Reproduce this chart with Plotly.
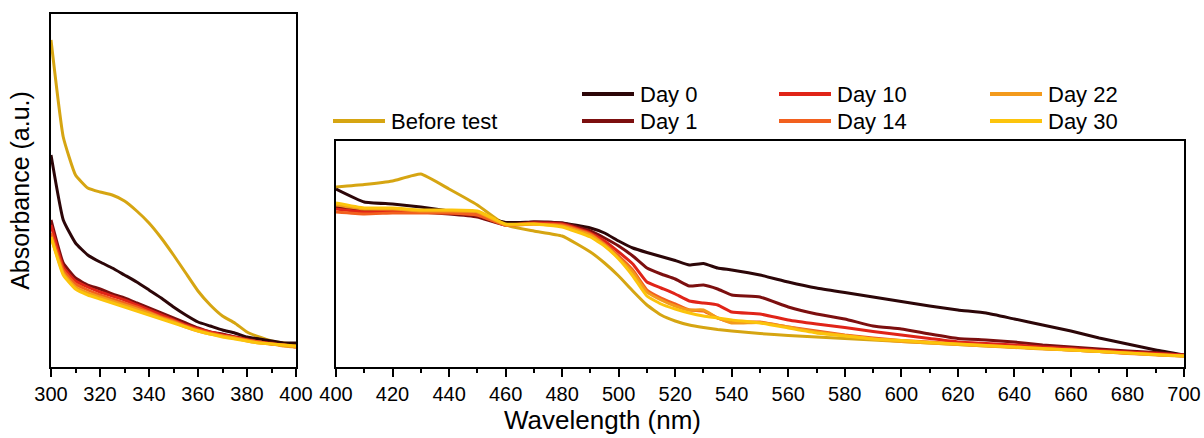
import plotly.graph_objects as go

# ---- data -------------------------------------------------------------
# UV region (left panel)
wl_uv = [300, 305, 310, 315, 320, 325, 330, 335, 340, 345, 350,
         355, 360, 365, 370, 375, 380, 385, 390, 395, 400]

uv_before = [3.27, 2.30, 1.92, 1.79, 1.75, 1.72, 1.66, 1.56, 1.44, 1.29, 1.12,
             0.94, 0.76, 0.62, 0.51, 0.44, 0.35, 0.30, 0.26, 0.24, 0.23]
uv_day0 = [2.12, 1.47, 1.24, 1.12, 1.05, 0.99, 0.92, 0.85, 0.77, 0.69, 0.60,
           0.52, 0.45, 0.41, 0.37, 0.34, 0.30, 0.28, 0.26, 0.24, 0.24]
uv_day1 = [1.47, 1.04, 0.89, 0.82, 0.78, 0.73, 0.69, 0.64, 0.59, 0.54, 0.49,
           0.44, 0.39, 0.35, 0.33, 0.30, 0.28, 0.25, 0.24, 0.22, 0.21]
uv_day10 = [1.42, 1.00, 0.86, 0.80, 0.75, 0.71, 0.67, 0.62, 0.57, 0.52, 0.47,
            0.42, 0.38, 0.35, 0.32, 0.30, 0.27, 0.25, 0.23, 0.22, 0.20]
uv_day14 = [1.34, 0.97, 0.83, 0.77, 0.72, 0.68, 0.64, 0.60, 0.55, 0.50, 0.46,
            0.41, 0.37, 0.34, 0.31, 0.29, 0.27, 0.25, 0.23, 0.22, 0.20]
uv_day22 = [1.30, 0.94, 0.80, 0.74, 0.70, 0.66, 0.62, 0.58, 0.54, 0.49, 0.45,
            0.40, 0.36, 0.33, 0.31, 0.29, 0.26, 0.24, 0.23, 0.21, 0.20]
uv_day30 = [1.30, 0.92, 0.78, 0.72, 0.68, 0.64, 0.60, 0.56, 0.52, 0.48, 0.44,
            0.40, 0.36, 0.33, 0.30, 0.28, 0.26, 0.24, 0.23, 0.22, 0.21]

# Visible region (right panel)
wl_vis = [400, 410, 420, 430, 440, 450, 460, 470, 480, 490, 495, 500, 505,
          510, 515, 520, 525, 530, 535, 540, 550, 560, 570, 580, 590, 600,
          610, 620, 630, 640, 650, 660, 670, 680, 690, 700]

vis_before = [1.80, 1.825, 1.86, 1.93, 1.78, 1.62, 1.42, 1.36, 1.31, 1.15, 1.04,
              0.91, 0.76, 0.62, 0.52, 0.46, 0.42, 0.395, 0.375, 0.36, 0.335,
              0.315, 0.30, 0.285, 0.27, 0.255, 0.24, 0.225, 0.21, 0.20, 0.185,
              0.17, 0.155, 0.14, 0.125, 0.11]
vis_day0 = [1.78, 1.65, 1.63, 1.60, 1.56, 1.52, 1.445, 1.45, 1.44, 1.39, 1.34,
            1.26, 1.19, 1.145, 1.105, 1.065, 1.02, 1.035, 0.99, 0.97, 0.92,
            0.85, 0.79, 0.745, 0.70, 0.655, 0.61, 0.57, 0.54, 0.48, 0.42,
            0.36, 0.29, 0.23, 0.17, 0.12]
vis_day1 = [1.60, 1.57, 1.57, 1.55, 1.53, 1.50, 1.42, 1.45, 1.44, 1.36, 1.29,
            1.21, 1.11, 0.99, 0.93, 0.88, 0.81, 0.82, 0.78, 0.72, 0.70,
            0.60, 0.53, 0.48, 0.41, 0.38, 0.33, 0.285, 0.27, 0.25, 0.22,
            0.20, 0.18, 0.16, 0.145, 0.12]
vis_day10 = [1.58, 1.55, 1.56, 1.55, 1.54, 1.52, 1.42, 1.44, 1.43, 1.34, 1.26,
             1.15, 1.03, 0.85, 0.79, 0.73, 0.66, 0.64, 0.62, 0.55, 0.53,
             0.47, 0.43, 0.395, 0.355, 0.32, 0.285, 0.25, 0.235, 0.22, 0.20,
             0.185, 0.165, 0.15, 0.135, 0.12]
vis_day14 = [1.55, 1.53, 1.54, 1.54, 1.54, 1.52, 1.42, 1.43, 1.42, 1.33, 1.23,
             1.11, 0.97, 0.77, 0.69, 0.63, 0.57, 0.56, 0.49, 0.45, 0.45,
             0.40, 0.36, 0.32, 0.29, 0.265, 0.25, 0.23, 0.215, 0.20, 0.185,
             0.17, 0.155, 0.135, 0.125, 0.11]
vis_day22 = [1.62, 1.58, 1.58, 1.56, 1.56, 1.55, 1.42, 1.43, 1.41, 1.32, 1.22,
             1.09, 0.95, 0.75, 0.67, 0.61, 0.57, 0.57, 0.49, 0.44, 0.445,
             0.40, 0.35, 0.315, 0.28, 0.255, 0.24, 0.225, 0.21, 0.195, 0.18,
             0.17, 0.155, 0.14, 0.12, 0.11]
vis_day30 = [1.64, 1.59, 1.59, 1.57, 1.57, 1.56, 1.43, 1.43, 1.40, 1.30, 1.21,
             1.08, 0.91, 0.71, 0.63, 0.58, 0.54, 0.51, 0.49, 0.47, 0.44,
             0.39, 0.34, 0.31, 0.28, 0.265, 0.245, 0.23, 0.215, 0.20, 0.185,
             0.17, 0.155, 0.14, 0.125, 0.11]

series_names = ["Before test", "Day 0", "Day 1", "Day 10", "Day 14", "Day 22", "Day 30"]
series_colors = ["#d6a512", "#2c0608", "#7c0f0f", "#e02418", "#f2601e", "#f39a1c", "#fcc40c"]
uv_series = [uv_before, uv_day0, uv_day1, uv_day10, uv_day14, uv_day22, uv_day30]
vis_series = [vis_before, vis_day0, vis_day1, vis_day10, vis_day14, vis_day22, vis_day30]

uv_ticks = [300, 320, 340, 360, 380, 400]
vis_ticks = list(range(400, 701, 20))

# ---- figure -----------------------------------------------------------
W, H = 1204, 438
FONT = "Liberation Sans, Arial, sans-serif"

fig = go.Figure()
for name, color, yu, yv in zip(series_names, series_colors, uv_series, vis_series):
    fig.add_trace(go.Scatter(x=wl_uv, y=yu, mode="lines", name=name,
                             line=dict(color=color, width=3, shape="spline", smoothing=0.4),
                             xaxis="x", yaxis="y", showlegend=False))
    fig.add_trace(go.Scatter(x=wl_vis, y=yv, mode="lines", name=name,
                             line=dict(color=color, width=3, shape="spline", smoothing=0.4),
                             xaxis="x2", yaxis="y2", showlegend=False))


def px_x(p):
    return p / W


def px_y(p):
    return 1 - p / H


frame = dict(showline=True, linecolor="black", linewidth=2, mirror=True,
             showgrid=False, zeroline=False, automargin=False)
xfmt = dict(ticks="outside", ticklen=8, tickwidth=2, tickcolor="black",
            minor=dict(ticks="outside", ticklen=4, tickwidth=2, tickcolor="black", dtick=10),
            tickfont=dict(family=FONT, size=20, color="black"))

fig.update_layout(
    width=W, height=H,
    margin=dict(l=0, r=0, t=0, b=0),
    paper_bgcolor="white", plot_bgcolor="white",
    font=dict(family=FONT, color="black"),
    xaxis=dict(domain=[px_x(51), px_x(296)], range=[300, 400], anchor="y",
               tickvals=uv_ticks, **frame, **xfmt),
    yaxis=dict(domain=[px_y(367), px_y(14)], range=[0, 3.53], anchor="x",
               showticklabels=False, ticks="",
               title=dict(text="Absorbance (a.u.)", standoff=12,
                          font=dict(family=FONT, size=25, color="black")),
               **frame),
    xaxis2=dict(domain=[px_x(336), px_x(1184)], range=[400, 700], anchor="y2",
                tickvals=vis_ticks, **frame, **xfmt),
    yaxis2=dict(domain=[px_y(367), px_y(141)], range=[0, 2.26], anchor="x2",
                showticklabels=False, ticks="", **frame),
)

fig.add_annotation(text="Wavelength (nm)", xref="paper", yref="paper",
                   x=px_x(602), y=px_y(420), xanchor="center", yanchor="middle",
                   showarrow=False, font=dict(family=FONT, size=26, color="black"))

# ---- legend (line samples + labels) -------------------------------------
legend_slots = {
    "Before test": (333, 121),
    "Day 0": (582, 94), "Day 1": (582, 121),
    "Day 10": (779, 94), "Day 14": (779, 121),
    "Day 22": (990, 94), "Day 30": (990, 121),
}
for name, color in zip(series_names, series_colors):
    lx, ly = legend_slots[name]
    fig.add_shape(type="line", xref="paper", yref="paper",
                  x0=px_x(lx), x1=px_x(lx + 52), y0=px_y(ly), y1=px_y(ly),
                  line=dict(color=color, width=4))
    fig.add_annotation(text=name, xref="paper", yref="paper",
                       x=px_x(lx + 56), y=px_y(ly), xanchor="left", yanchor="middle",
                       showarrow=False, font=dict(family=FONT, size=22, color="black"))

fig.write_html("out.html")
